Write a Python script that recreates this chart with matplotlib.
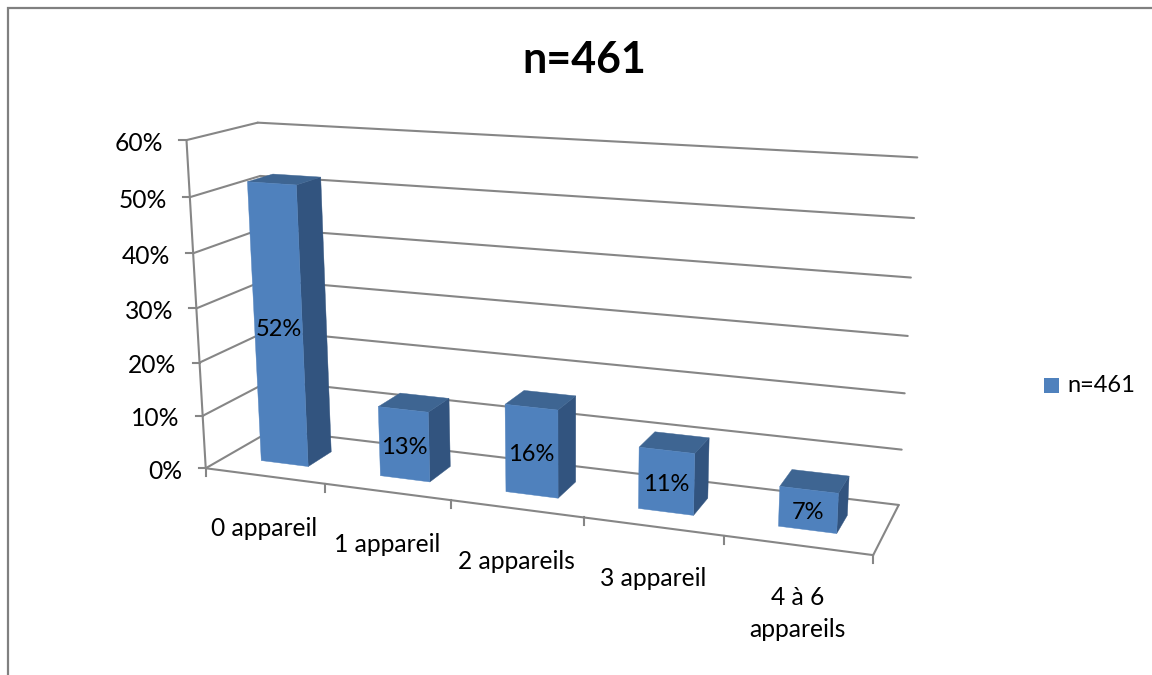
import matplotlib
matplotlib.use('Agg')
import matplotlib.pyplot as plt
import numpy as np

categories = ['0 appareil', '1 appareil', '2 appareils', '3 appareil', '4 à 6\nappareils']
values = [52, 13, 16, 11, 7]
y_ticks = [0, 10, 20, 30, 40, 50, 60]
title = 'n=461'

plt.rcParams['font.family'] = ['Lato', 'DejaVu Sans']

GRID = '#868686'
FRONT = '#4F81BD'
SIDE = '#32547F'
TOP = '#3E6592'

# pixel positions of the 3d box, used to fit the camera
calib = [
    ((0, 60, 0), (187, 141)), ((0, 50, 0), (190, 197)), ((0, 40, 0), (193, 253)),
    ((0, 30, 0), (196, 308)), ((0, 20, 0), (199, 362)), ((0, 10, 0), (202, 415)),
    ((0, 0, 0), (206, 468)), ((1, 0, 0), (326, 484)), ((2, 0, 0), (451, 501)),
    ((3, 0, 0), (584, 518)), ((4, 0, 0), (724, 536)), ((5, 0, 0), (873, 555)),
    ((0, 60, 1), (257, 123)), ((0, 50, 1), (260, 176)), ((0, 40, 1), (263, 228)),
    ((0, 30, 1), (266, 280)), ((0, 20, 1), (268, 331)), ((0, 10, 1), (270, 381)),
    ((0, 0, 1), (272, 430)), ((5, 60, 1), (917, 157)), ((5, 50, 1), (915, 218)),
    ((5, 40, 1), (910, 278)), ((5, 30, 1), (908, 336)), ((5, 20, 1), (905, 393)),
    ((5, 10, 1), (902, 449)), ((5, 0, 1), (898, 505)),
]

A = []
b = []
for (x, y, z), (u, v) in calib:
    A.append([x, y, z, 1, 0, 0, 0, 0, -u * x, -u * y, -u * z])
    A.append([0, 0, 0, 0, x, y, z, 1, -v * x, -v * y, -v * z])
    b += [u, v]
cam = np.linalg.lstsq(np.array(A, float), np.array(b, float), rcond=None)[0]
cam = np.append(cam, 1).reshape(3, 4)


def project(x, y, z):
    p = cam @ np.array([x, y, z, 1.0])
    return p[0] / p[2], p[1] / p[2]


def line(ax, a, b, **kw):
    pa, pb = project(*a), project(*b)
    ax.plot([pa[0], pb[0]], [pa[1], pb[1]], color=GRID, lw=1.5, solid_capstyle='round', **kw)


def quad(ax, pts, color):
    xy = [project(*p) for p in pts]
    ax.fill([q[0] for q in xy], [q[1] for q in xy], color=color, lw=0.3, zorder=3)


fig = plt.figure(figsize=(11.52, 6.75), dpi=100)
ax = fig.add_axes([0, 0, 1, 1])
ax.set_xlim(0, 1152)
ax.set_ylim(675, 0)
ax.axis('off')

# chart border, only top and left are in the crop
ax.plot([8, 8, 1152], [675, 7.5, 7.5], color='#808080', lw=1.6, solid_joinstyle='miter')

n = len(categories)
for t in y_ticks:
    line(ax, (0, t, 0), (0, t, 1))
    line(ax, (0, t, 1), (n, t, 1))
    u, v = project(0, t, 0)
    ax.plot([u - 7, u], [v, v], color=GRID, lw=1.5)
    ax.text(u - 23, v + 3, f'{t}%', ha='right', va='center', fontsize=17.7)

line(ax, (0, 0, 0), (0, 60, 0))
line(ax, (0, 0, 0), (n, 0, 0))
line(ax, (n, 0, 0), (n, 0, 1))
for i in range(n + 1):
    u, v = project(i, 0, 0)
    ax.plot([u, u], [v, v + 8], color=GRID, lw=1.5)

bar_w = 0.2
z0, z1 = 0.3, 0.67
for i, (cat, val) in enumerate(zip(categories, values)):
    x0, x1 = i + 0.5 - bar_w, i + 0.5 + bar_w
    quad(ax, [(x1, 0, z0), (x1, 0, z1), (x1, val, z1), (x1, val, z0)], SIDE)
    quad(ax, [(x0, val, z0), (x1, val, z0), (x1, val, z1), (x0, val, z1)], TOP)
    quad(ax, [(x0, 0, z0), (x1, 0, z0), (x1, val, z0), (x0, val, z0)], FRONT)
    u, v = project(i + 0.5, val / 2, z0)
    ax.text(u, v + 3, f'{val}%', ha='center', va='center', fontsize=17, color='black', zorder=4)
    u, v = project(i + 0.5, 0, 0)
    ax.text(u, v + 41, cat, ha='center', va='top', fontsize=17.7, linespacing=1.45)

ax.text(584, 60, title, ha='center', va='center', fontsize=31, fontweight='bold')

ax.add_patch(plt.Rectangle((1044, 378), 15, 15, color=FRONT, lw=0))
ax.text(1067, 386, title, ha='left', va='center', fontsize=17)

fig.savefig('out.png', dpi=100)
